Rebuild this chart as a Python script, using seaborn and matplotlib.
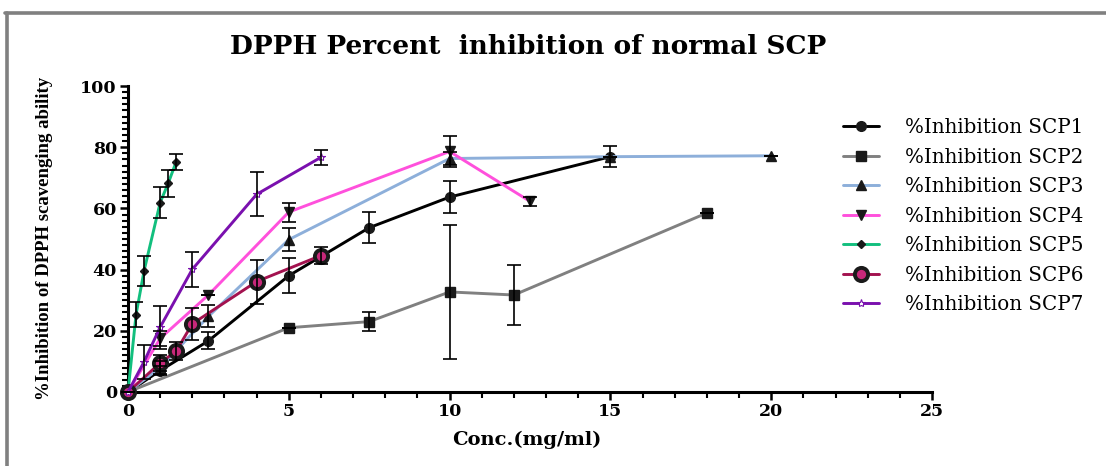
import matplotlib
matplotlib.use("Agg")
import matplotlib.pyplot as plt
from matplotlib.lines import Line2D
from matplotlib.ticker import MultipleLocator
import seaborn as sns
import pandas as pd

# ---- data ----
labels = ["%Inhibition SCP1", "%Inhibition SCP2", "%Inhibition SCP3", "%Inhibition SCP4",
          "%Inhibition SCP5", "%Inhibition SCP6", "%Inhibition SCP7"]

scp1_x = [0, 1, 2.5, 5, 7.5, 10, 15]
scp1_y = [0, 7, 16.7, 38, 53.7, 63.7, 76.9]
scp1_e = [0, 1.5, 2.8, 5.7, 5, 5.2, 3.4]

scp2_x = [0, 5, 7.5, 10, 12, 18]
scp2_y = [0, 21, 23, 32.7, 31.7, 58.5]
scp2_e = [0, 0, 3.2, 22, 9.8, 0]

scp3_x = [0, 1, 2.5, 5, 10, 15, 20]
scp3_y = [0, 8, 24.7, 49.8, 76.3, 76.9, 77.2]
scp3_e = [0, 2, 3.6, 3.7, 2, 0, 0]

scp4_x = [0, 1, 2.5, 5, 10, 12.5]
scp4_y = [0, 17.5, 31.7, 58.8, 78.6, 62.3]
scp4_e = [0, 2.5, 0, 3.1, 5.2, 1.5]

scp5_x = [0, 0.25, 0.5, 1, 1.25, 1.5]
scp5_y = [0, 25.3, 39.6, 61.9, 68.2, 75.3]
scp5_e = [0, 4, 5, 5, 4.5, 2.6]

scp6_x = [0, 1, 1.5, 2, 4, 6]
scp6_y = [0, 9.5, 13.4, 22.3, 36.1, 44.6]
scp6_e = [0, 2.5, 3, 5.2, 7.2, 2.8]

scp7_x = [0, 0.5, 1, 2, 4, 6]
scp7_y = [0, 9.9, 21.2, 40.1, 64.6, 76.7]
scp7_e = [0, 5.5, 7, 5.8, 7.2, 2.4]

xs = [scp1_x, scp2_x, scp3_x, scp4_x, scp5_x, scp6_x, scp7_x]
ys = [scp1_y, scp2_y, scp3_y, scp4_y, scp5_y, scp6_y, scp7_y]
es = [scp1_e, scp2_e, scp3_e, scp4_e, scp5_e, scp6_e, scp7_e]

colors = ["#000000", "#808080", "#8DAFDA", "#FF50DC", "#12BF7E", "#A3124F", "#7A10AE"]
markers = ["o", "s", "^", "v", "D", "o", "*"]
mfc = ["k", "k", "k", "k", "k", "#C8287A", "white"]
mec = ["k", "k", "k", "k", "k", "k", "#7A10AE"]
msize = [7, 7, 7.5, 7.5, 4.5, 9.5, 6]
mew = [1, 1, 1, 1, 1, 2.8, 0.8]

sns.set_theme(style="ticks")
plt.rcParams["font.family"] = ["DejaVu Serif"]
plt.rcParams["text.color"] = "black"
plt.rcParams["xtick.color"] = "black"
plt.rcParams["ytick.color"] = "black"

fig = plt.figure(figsize=(11.06, 4.66), dpi=100)
ax = fig.add_axes([128 / 1106, 74 / 466, 804 / 1106, 306 / 466])

for i in range(7):
    df = pd.DataFrame({"x": xs[i], "y": ys[i]})
    sns.lineplot(data=df, x="x", y="y", ax=ax, color=colors[i], marker=markers[i],
                 markerfacecolor=mfc[i], markeredgecolor=mec[i], markersize=msize[i],
                 markeredgewidth=mew[i], linewidth=2.1, estimator=None, sort=False,
                 label=labels[i], clip_on=False, zorder=3 + i * 0.1)
    ax.errorbar(xs[i], ys[i], yerr=es[i], fmt="none", ecolor="black", elinewidth=1.2,
                capsize=5, capthick=1.2, zorder=5, clip_on=False)

ax.set_xlim(0, 25)
ax.set_ylim(0, 100)
ax.xaxis.set_major_locator(MultipleLocator(5))
ax.xaxis.set_minor_locator(MultipleLocator(1))
ax.yaxis.set_major_locator(MultipleLocator(20))
ax.yaxis.set_minor_locator(MultipleLocator(2))
for s in ["top", "right"]:
    ax.spines[s].set_visible(False)
for s in ["left", "bottom"]:
    ax.spines[s].set_linewidth(2.2)
    ax.spines[s].set_color("black")
ax.tick_params(which="major", length=6, width=1.8, colors="black", pad=2, labelsize=12.5)
ax.tick_params(which="minor", length=4, width=1.5, colors="black")
for t in ax.get_xticklabels() + ax.get_yticklabels():
    t.set_fontweight("bold")
    t.set_color("black")
ax.set_xlabel("")
ax.set_ylabel("")

fig.text(527 / 1106, 1 - 440 / 466, "Conc.(mg/ml)", ha="center", va="center",
         fontsize=14, fontweight="bold", color="black")
fig.text(45 / 1106, 1 - 238 / 466, "%Inhibition of DPPH scavenging ability", rotation=90,
         ha="center", va="center", fontsize=13.5, fontweight="bold", color="black",
         family=["Liberation Serif", "DejaVu Serif"])
fig.text(528 / 1106, 1 - 47 / 466, "DPPH Percent  inhibition of normal SCP", ha="center",
         va="center", fontsize=19, fontweight="bold", color="black")

leg = ax.legend(loc="upper left", bbox_to_anchor=(843 / 1106, 1 - 118 / 466),
                bbox_transform=fig.transFigure, frameon=False, fontsize=14.3,
                handlelength=1.8, handletextpad=1.3, labelspacing=0.53, borderpad=0,
                borderaxespad=0, numpoints=1)
for t in leg.get_texts():
    t.set_color("black")

# gray frame (top and left)
fig.add_artist(Line2D([5 / 1106, 1], [1 - 13 / 466, 1 - 13 / 466], color="#808080",
                      linewidth=2.6, transform=fig.transFigure))
fig.add_artist(Line2D([6.5 / 1106, 6.5 / 1106], [0, 1 - 13 / 466], color="#808080",
                      linewidth=2.6, transform=fig.transFigure))

fig.savefig("out.png", dpi=100)
